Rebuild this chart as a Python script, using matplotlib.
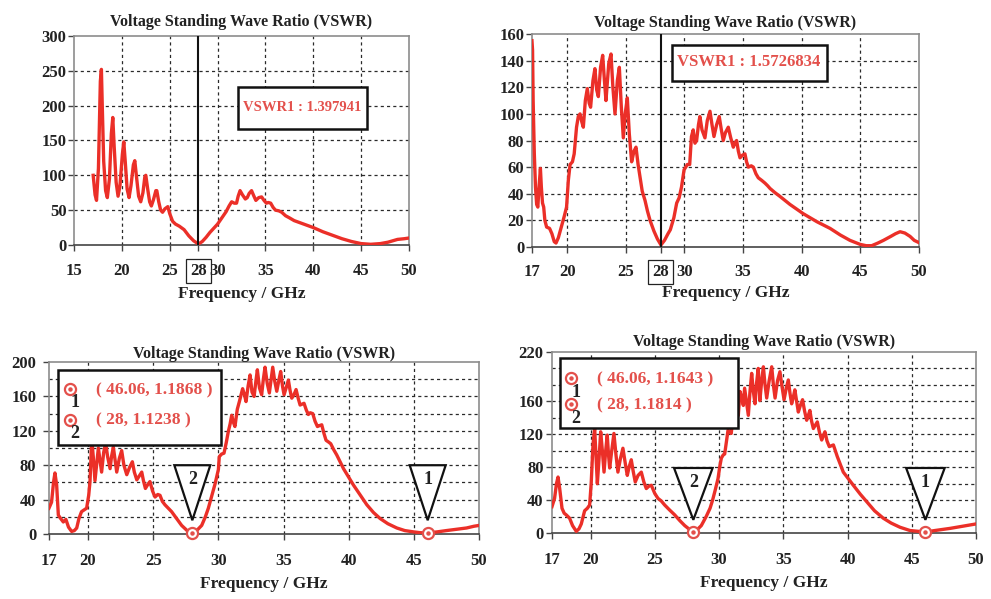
import numpy as np
import matplotlib.pyplot as plt
from matplotlib.patches import Rectangle, Polygon

plt.rcParams['font.family'] = ['Liberation Serif', 'DejaVu Serif']
plt.rcParams['font.weight'] = 'bold'

# ---- data: (frequency GHz, VSWR) ----
trace_a = [
    (17.0, 100), (17.2, 72), (17.35, 64), (17.55, 110), (17.75, 235), (17.86, 252),
    (17.95, 200), (18.1, 120), (18.3, 78), (18.48, 68), (18.7, 95), (18.9, 160),
    (19.05, 183), (19.2, 140), (19.4, 90), (19.6, 70), (19.8, 85), (20.05, 130),
    (20.2, 148), (20.35, 120), (20.55, 80), (20.75, 68), (20.95, 85), (21.2, 115),
    (21.35, 121), (21.55, 95), (21.75, 70), (21.97, 62), (22.2, 75), (22.4, 98),
    (22.5, 100), (22.7, 80), (22.9, 62), (23.08, 56), (23.3, 65), (23.55, 78),
    (23.65, 78), (23.85, 62), (24.05, 50), (24.25, 47), (24.5, 52), (24.8, 55),
    (25.0, 45), (25.3, 34), (25.6, 30), (26.0, 27), (26.5, 22), (27.0, 13),
    (27.5, 6), (28.0, 1.397941), (28.4, 5), (28.8, 11), (29.2, 18), (29.6, 24),
    (30.0, 30), (30.3, 36), (30.6, 42), (30.9, 48), (31.2, 56), (31.47, 62),
    (31.75, 60), (31.98, 60), (32.15, 70), (32.35, 78), (32.6, 72), (32.9, 66),
    (33.1, 68), (33.3, 74), (33.55, 78), (33.8, 70), (34.0, 64), (34.3, 68),
    (34.6, 69), (34.85, 64), (35.1, 60), (35.3, 61), (35.55, 60), (35.8, 54),
    (36.05, 50), (36.4, 49), (36.7, 47), (37.1, 42), (37.5, 39), (38.0, 35),
    (39.0, 30), (40.0, 25), (41.0, 19), (42.0, 14), (43.0, 9), (44.0, 5),
    (45.0, 2), (46.0, 1), (47.0, 2), (47.8, 4), (48.8, 8), (49.5, 9), (50.0, 10),
]

trace_b = [
    (17.0, 155), (17.05, 148), (17.1, 110), (17.2, 70), (17.3, 45), (17.4, 32),
    (17.5, 30), (17.6, 45), (17.72, 59), (17.8, 45), (17.9, 33), (18.0, 30),
    (18.1, 20), (18.25, 15), (18.5, 14), (18.7, 10), (18.9, 4), (19.05, 3),
    (19.25, 7), (19.5, 15), (19.75, 23), (19.95, 30), (20.1, 50), (20.25, 62),
    (20.45, 64), (20.6, 70), (20.8, 90), (20.95, 98), (21.1, 100), (21.25, 94),
    (21.38, 90), (21.55, 110), (21.72, 119), (21.88, 108), (22.0, 105), (22.2, 125),
    (22.37, 134), (22.52, 118), (22.66, 113), (22.85, 135), (23.03, 144), (23.18, 125),
    (23.31, 110), (23.55, 138), (23.74, 145), (23.9, 120), (24.08, 100), (24.28, 125),
    (24.45, 135), (24.62, 105), (24.79, 82), (24.95, 100), (25.13, 112), (25.3, 85),
    (25.5, 64), (25.7, 72), (25.87, 75), (26.05, 62), (26.21, 53), (26.4, 42),
    (26.64, 35), (26.85, 27), (27.07, 20), (27.4, 12), (27.7, 6), (28.0, 1.5726834),
    (28.3, 5), (28.6, 10), (28.8, 13), (29.1, 22), (29.34, 33), (29.55, 37),
    (29.75, 45), (29.97, 58), (30.25, 62), (30.45, 62), (30.6, 83), (30.75, 88),
    (30.9, 78), (31.04, 80), (31.2, 92), (31.32, 98), (31.5, 88), (31.75, 82),
    (31.95, 95), (32.18, 102), (32.35, 92), (32.52, 83), (32.75, 92), (32.97, 98),
    (33.15, 88), (33.31, 80), (33.5, 86), (33.74, 90), (33.95, 82), (34.17, 75),
    (34.3, 78), (34.45, 80), (34.6, 72), (34.74, 67), (34.95, 69), (35.16, 70),
    (35.3, 64), (35.45, 60), (35.7, 61), (35.88, 60), (36.1, 55), (36.3, 52),
    (36.6, 50), (36.87, 48), (37.1, 46), (37.3, 44), (37.7, 41), (38.15, 38),
    (39.0, 32), (40.14, 25), (41.3, 19), (42.42, 14), (43.3, 9), (44.12, 5),
    (44.98, 2), (45.5, 1), (45.97, 1), (46.5, 3), (46.97, 5), (47.6, 8),
    (48.0, 10), (48.39, 11.5), (48.8, 10.5), (49.24, 8), (49.6, 5), (50.0, 3.3),
]

trace_c = [
    (17.0, 30), (17.2, 37), (17.35, 60), (17.46, 71), (17.59, 57), (17.72, 22),
    (17.9, 18), (18.1, 14), (18.3, 17), (18.5, 8), (18.74, 3), (18.95, 4),
    (19.13, 7), (19.3, 18), (19.5, 26), (19.7, 28), (19.89, 30), (20.05, 45),
    (20.15, 61), (20.28, 111), (20.4, 90), (20.53, 62), (20.65, 80), (20.79, 100),
    (20.92, 85), (21.04, 72), (21.2, 95), (21.35, 106), (21.5, 90), (21.69, 76),
    (21.8, 90), (21.94, 101), (22.08, 85), (22.2, 72), (22.4, 88), (22.58, 97),
    (22.75, 80), (22.97, 69), (23.2, 78), (23.4, 84), (23.55, 72), (23.74, 63),
    (23.95, 68), (24.12, 72), (24.25, 62), (24.4, 53), (24.6, 58), (24.75, 61),
    (24.95, 50), (25.14, 43), (25.35, 46), (25.52, 45), (25.7, 38), (25.9, 34),
    (26.41, 26), (26.8, 18), (27.18, 10), (27.6, 4), (28.0, 1.1238), (28.4, 5),
    (28.72, 10), (29.0, 20), (29.23, 30), (29.5, 45), (29.74, 58), (30.0, 75),
    (30.07, 90), (30.25, 93), (30.43, 94), (30.6, 106), (30.76, 119), (30.9, 128),
    (31.02, 138), (31.15, 130), (31.27, 125), (31.45, 145), (31.61, 154), (31.86, 169),
    (32.0, 162), (32.12, 154), (32.28, 172), (32.43, 185), (32.58, 165), (32.74, 160),
    (32.88, 178), (32.99, 191), (33.15, 170), (33.32, 162), (33.45, 180), (33.58, 194),
    (33.75, 175), (33.91, 164), (34.05, 180), (34.17, 194), (34.32, 178), (34.48, 166),
    (34.63, 178), (34.78, 189), (34.92, 172), (35.04, 162), (35.2, 170), (35.37, 179),
    (35.5, 167), (35.63, 158), (35.8, 162), (35.96, 168), (36.12, 158), (36.27, 150),
    (36.42, 151), (36.57, 152), (36.75, 144), (36.9, 139), (37.05, 141), (37.24, 140),
    (37.42, 131), (37.6, 125), (37.75, 126), (37.93, 127), (38.1, 117), (38.26, 109),
    (38.45, 107), (38.62, 105), (38.85, 98), (39.08, 92), (39.6, 76), (40.36, 57),
    (40.9, 45), (41.39, 34), (41.9, 25), (42.41, 18), (43.0, 12), (43.69, 7),
    (44.3, 4), (44.96, 2.5), (45.5, 1.5), (46.06, 1.1868), (46.8, 2.5), (47.5, 4),
    (48.3, 5.5), (49.04, 7), (49.6, 9), (50.0, 10),
]

trace_d = [
    (17.0, 32), (17.2, 42), (17.35, 60), (17.47, 68), (17.6, 54), (17.78, 30),
    (17.95, 24), (18.11, 22), (18.37, 18), (18.6, 9), (18.89, 2), (19.1, 5),
    (19.28, 11), (19.54, 27), (19.75, 30), (19.93, 34), (20.05, 60), (20.19, 107),
    (20.32, 127), (20.42, 95), (20.53, 60), (20.66, 90), (20.79, 123), (20.92, 100),
    (21.05, 74), (21.18, 100), (21.3, 119), (21.4, 95), (21.49, 79), (21.65, 100),
    (21.82, 121), (21.98, 95), (22.13, 74), (22.32, 90), (22.52, 103), (22.7, 85),
    (22.86, 70), (23.0, 80), (23.17, 89), (23.32, 75), (23.48, 62), (23.7, 70),
    (23.95, 74), (24.15, 62), (24.34, 54), (24.55, 57), (24.73, 58), (25.0, 48),
    (25.25, 42), (25.5, 39), (25.77, 34), (26.15, 28), (26.55, 22), (26.95, 15),
    (27.33, 9), (27.65, 5), (28.0, 1.1814), (28.3, 4), (28.62, 9), (29.0, 20),
    (29.3, 30), (29.5, 40), (29.7, 52), (29.92, 66), (30.05, 80), (30.18, 91),
    (30.33, 95), (30.44, 96), (30.58, 112), (30.7, 125), (30.83, 123), (30.95, 121),
    (31.08, 140), (31.21, 157), (31.35, 150), (31.5, 143), (31.63, 172), (31.76, 165),
    (31.89, 155), (31.99, 176), (32.15, 158), (32.28, 143), (32.4, 170), (32.54, 194),
    (32.67, 172), (32.8, 157), (32.92, 182), (33.05, 200), (33.18, 161), (33.32, 185),
    (33.45, 202), (33.58, 180), (33.71, 164), (33.9, 185), (34.1, 202), (34.23, 180),
    (34.36, 164), (34.55, 185), (34.74, 196), (34.9, 178), (35.06, 162), (35.22, 175),
    (35.39, 186), (35.52, 170), (35.65, 157), (35.78, 165), (35.9, 174), (36.04, 160),
    (36.17, 147), (36.33, 155), (36.5, 162), (36.66, 148), (36.82, 137), (36.95, 143),
    (37.07, 149), (37.2, 136), (37.34, 127), (37.5, 131), (37.65, 135), (37.82, 122),
    (37.99, 113), (38.1, 118), (38.24, 123), (38.4, 112), (38.58, 105), (38.75, 106),
    (38.9, 107), (39.2, 93), (39.67, 74), (40.45, 58), (41.0, 47), (41.49, 38),
    (42.1, 27), (42.78, 18), (43.4, 12), (44.08, 7), (44.86, 3), (45.5, 2),
    (46.06, 1.1643), (46.8, 3), (47.98, 5.6), (48.9, 8), (50.0, 11),
]

# marker readouts (frequency, VSWR)
vswr1_a = (28, 1.397941)
vswr1_b = (28, 1.5726834)
markers_c = [(46.06, 1.1868), (28, 1.1238)]
markers_d = [(46.06, 1.1643), (28, 1.1814)]

TITLE = 'Voltage Standing Wave Ratio (VSWR)'
XLABEL = 'Frequency / GHz'
RED = '#eb2f28'
TXT_RED = '#e3504b'
GRID = dict(color='#2a2a2a', lw=0.9, linestyle=(0, (2.5, 2.5)), zorder=1)


def setup(ax, xlim, ylim, xticks, xlabels, yticks, ylabels, ygrid, xgrid,
          title_pad, xpad, ypad, labelpad):
    ax.set_xlim(*xlim)
    ax.set_ylim(*ylim)
    ax.set_xticks(xticks, xlabels)
    ax.set_yticks(yticks, ylabels)
    for g in xgrid:
        ax.axvline(g, **GRID)
    for g in ygrid:
        ax.axhline(g, **GRID)
    for s in ax.spines.values():
        s.set_color('#8c8c8c')
        s.set_linewidth(1.2)
    ax.spines['bottom'].set_color('#444444')
    ax.tick_params(axis='x', direction='out', length=4, width=1,
                   color='#444444', labelsize=12, labelcolor='#222222', pad=xpad)
    ax.tick_params(axis='y', direction='out', length=4, width=1,
                   color='#444444', labelsize=12, labelcolor='#222222', pad=ypad)
    ax.set_title(TITLE, fontsize=11.5, fontweight='bold', color='#222222', pad=title_pad)
    ax.set_xlabel(XLABEL, fontsize=12.5, fontweight='bold', color='#222222',
                  labelpad=labelpad)


def box_tick(ax, idx):
    tick = ax.xaxis.get_major_ticks()[idx]
    tick.label1.set_bbox(dict(boxstyle='square,pad=0.25', fc='none',
                              ec='#222222', lw=0.9))


def value_box(ax, rect, text, xy, size):
    ax.add_patch(Rectangle(rect[:2], rect[2], rect[3], transform=ax.transAxes,
                           fc='white', ec='#111111', lw=1.8, zorder=5))
    ax.text(xy[0], xy[1], text, transform=ax.transAxes, ha='center', va='center',
            color=TXT_RED, fontsize=size, fontweight='bold', zorder=6)


def marker_legend(ax, rect, rows, markers):
    ax.add_patch(Rectangle(rect[:2], rect[2], rect[3], transform=ax.transAxes,
                           fc='white', ec='#111111', lw=1.8, zorder=5))
    for i, ((mx, my), (f, v)) in enumerate(zip(rows, markers)):
        ax.plot(mx, my, 'o', ms=8, mfc='white', mec=TXT_RED, mew=1.6,
                transform=ax.transAxes, zorder=7)
        ax.plot(mx, my, 'o', ms=2.2, color=TXT_RED, transform=ax.transAxes, zorder=8)
        ax.text(mx + 0.012, my - 0.08, str(i + 1), transform=ax.transAxes,
                ha='center', va='center', fontsize=13, color='#222222', zorder=7)
        ax.text(mx + 0.06, my - 0.005, f'( {f:g}, {v:.4f} )', transform=ax.transAxes,
                ha='left', va='center', fontsize=12.5, color=TXT_RED, zorder=7)


def triangles(ax, markers, half, top, tip, num_y):
    for i, (f, v) in enumerate(markers):
        ax.add_patch(Polygon([(f - half, top), (f + half, top), (f, tip)],
                             closed=True, fc='white', ec='#111111', lw=1.6, zorder=4))
        ax.text(f, num_y, str(i + 1), ha='center', va='center', fontsize=13,
                color='#222222', zorder=5)
        ax.plot(f, v, 'o', ms=8, mfc='white', mec=TXT_RED, mew=1.6,
                clip_on=False, zorder=7)
        ax.plot(f, v, 'o', ms=2.2, color=TXT_RED, clip_on=False, zorder=8)


fig = plt.figure(figsize=(9.91, 5.99), dpi=100)

# top left
ax1 = fig.add_axes([0.0747, 0.591, 0.338, 0.349])
fa, va = np.array(trace_a).T
ax1.plot(fa, va, color=RED, lw=2.4, zorder=3)
ticks_a = [15, 20, 25, 28, 30, 35, 40, 45, 50]
setup(ax1, (15, 50), (0, 300), ticks_a, [str(t) for t in ticks_a],
      range(0, 301, 50), [str(t) for t in range(0, 301, 50)],
      [50, 100, 150, 200, 250], [20, 25, 30, 35, 40, 45],
      title_pad=7, xpad=9, ypad=1.5, labelpad=5)
box_tick(ax1, 3)
ax1.axvline(vswr1_a[0], color='#111111', lw=1.5, zorder=4)
value_box(ax1, (0.49, 0.555, 0.385, 0.201), f'VSWR1 : {vswr1_a[1]}',
          (0.682, 0.66), 10.5)

# top right
ax2 = fig.add_axes([0.5368, 0.5876, 0.3905, 0.3556])
fb, vb = np.array(trace_b).T
ax2.plot(fb, vb, color=RED, lw=2.4, zorder=3)
ticks_b = [17, 20, 25, 28, 30, 35, 40, 45, 50]
setup(ax2, (17, 50), (0, 160), ticks_b, [str(t) for t in ticks_b],
      range(0, 161, 20), [str(t) for t in range(0, 161, 20)],
      range(20, 160, 20), [20, 25, 30, 35, 40, 45],
      title_pad=5, xpad=8, ypad=1.5, labelpad=4)
box_tick(ax2, 3)
ax2.axvline(vswr1_b[0], color='#111111', lw=1.5, zorder=4)
value_box(ax2, (0.362, 0.779, 0.4, 0.169), f'VSWR1 : {vswr1_b[1]}',
          (0.561, 0.867), 12)

# bottom left
ax3 = fig.add_axes([0.0494, 0.1085, 0.434, 0.2871])
fc, vc = np.array(trace_c).T
ax3.plot(fc, vc, color=RED, lw=2.4, zorder=3)
ticks_c = [17, 20, 25, 30, 35, 40, 45, 50]
setup(ax3, (17, 50), (0, 200), ticks_c, [str(t) for t in ticks_c],
      range(0, 201, 40), [str(t) for t in range(0, 201, 40)],
      range(20, 200, 20), [20, 25, 30, 35, 40, 45],
      title_pad=3, xpad=9.5, ypad=5, labelpad=5)
triangles(ax3, markers_c, 1.38, 80, 16, 63)
marker_legend(ax3, (0.021, 0.517, 0.379, 0.436),
              [(0.049, 0.843), (0.049, 0.663)], markers_c)

# bottom right
ax4 = fig.add_axes([0.557, 0.1102, 0.4279, 0.3022])
fd, vd = np.array(trace_d).T
ax4.plot(fd, vd, color=RED, lw=2.4, zorder=3)
ticks_d = [17, 20, 25, 30, 35, 40, 45, 50]
setup(ax4, (17, 50), (0, 220), ticks_d, [str(t) for t in ticks_d],
      [0, 40, 80, 120, 160, 220], ['0', '40', '80', '120', '160', '220'],
      range(20, 220, 20), [20, 25, 30, 35, 40, 45],
      title_pad=4, xpad=9.5, ypad=2, labelpad=5)
triangles(ax4, markers_d, 1.5, 79, 16, 61)
marker_legend(ax4, (0.019, 0.58, 0.42, 0.387),
              [(0.045, 0.856), (0.045, 0.712)], markers_d)

fig.savefig('out.png', dpi=100)
